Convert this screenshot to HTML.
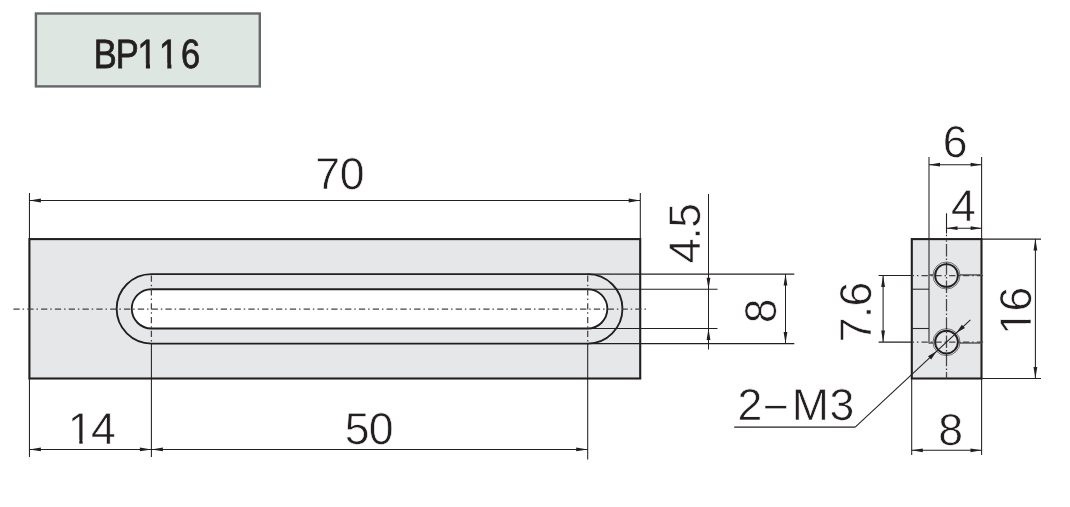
<!DOCTYPE html>
<html lang="en">
<head>
<meta charset="utf-8">
<title>BP116</title>
<style>
html,body{margin:0;padding:0;background:#fff;}
body{width:1070px;height:507px;overflow:hidden;}
svg{display:block;will-change:transform;}
text{font-family:"Liberation Sans",sans-serif;fill:#231f20;text-rendering:geometricPrecision;}
text.d{stroke:#fff;stroke-width:0.6px;}
</style>
</head>
<body>
<svg width="1070" height="507" viewBox="0 0 1070 507">
<rect width="1070" height="507" fill="#fff"/>
<rect x="35.9" y="13.5" width="223.9" height="72.9" fill="#dde6e0" stroke="#66676b" stroke-width="2.4"/>
<text class="b" transform="translate(0 68) scale(0.84 1)" x="111.67 137.86 163.81 189.29 215.36" y="0" font-size="41.0" stroke="#231f20" stroke-width="0.8">BP116</text>
<rect x="138.8" y="63.2" width="7.10" height="6.6" fill="#dde6e0"/>
<rect x="150.0" y="63.2" width="7.00" height="6.6" fill="#dde6e0"/>
<rect x="160.1" y="63.2" width="7.20" height="6.6" fill="#dde6e0"/>
<rect x="171.4" y="63.2" width="6.80" height="6.6" fill="#dde6e0"/>
<rect x="29.4" y="239.1" width="610.80" height="139.40" fill="#e6e7e8" stroke="#231f20" stroke-width="2.1"/>
<path d="M151.4 274.10 H587.7 A34.75 34.75 0 0 1 587.7 343.60 H151.4 A34.75 34.75 0 0 1 151.4 274.10 Z" fill="#e6e7e8" stroke="#231f20" stroke-width="1.85"/>
<path d="M151.4 289.20 H587.7 A19.65 19.65 0 0 1 587.7 328.50 H151.4 A19.65 19.65 0 0 1 151.4 289.20 Z" fill="#fff" stroke="#231f20" stroke-width="1.85"/>
<line x1="13.4" y1="309.05" x2="646" y2="309.05" stroke="#454345" stroke-width="1.25" stroke-dasharray="6.3 2.9 1.5 3.12"/>
<line x1="151.4" y1="275.5" x2="151.4" y2="343.6" stroke="#454345" stroke-width="1.25" stroke-dasharray="6.3 2.9 1.5 3.12"/>
<line x1="587.7" y1="275.5" x2="587.7" y2="343.6" stroke="#454345" stroke-width="1.25" stroke-dasharray="6.3 2.9 1.5 3.12"/>
<line x1="29.45" y1="193" x2="29.45" y2="239.1" stroke="#231f20" stroke-width="1.05"/>
<line x1="640.3" y1="193" x2="640.3" y2="239.1" stroke="#231f20" stroke-width="1.05"/>
<line x1="29.45" y1="378.5" x2="29.45" y2="457" stroke="#231f20" stroke-width="1.05"/>
<line x1="151.4" y1="343.6" x2="151.4" y2="457" stroke="#231f20" stroke-width="1.05"/>
<line x1="587.7" y1="343.6" x2="587.7" y2="459.5" stroke="#231f20" stroke-width="1.05"/>
<line x1="29.4" y1="200.5" x2="640.2" y2="200.5" stroke="#231f20" stroke-width="1.05"/>
<polygon points="29.40,200.50 40.90,198.60 40.90,202.40" fill="#231f20"/>
<polygon points="640.20,200.50 628.70,202.40 628.70,198.60" fill="#231f20"/>
<g transform="translate(0 189)"><text class="d" x="315.20 339.85" y="0" font-size="44.6">70</text></g>
<line x1="29.4" y1="449.4" x2="587.7" y2="449.4" stroke="#231f20" stroke-width="1.05"/>
<polygon points="29.40,449.40 40.90,447.50 40.90,451.30" fill="#231f20"/>
<polygon points="151.40,449.40 139.90,451.30 139.90,447.50" fill="#231f20"/>
<polygon points="151.40,449.40 162.90,447.50 162.90,451.30" fill="#231f20"/>
<polygon points="587.70,449.40 576.20,451.30 576.20,447.50" fill="#231f20"/>
<g transform="translate(0 444)"><text class="d" x="67.78 90.99" y="0" font-size="44.6">14</text><rect x="70.17" y="-4.33" width="9.12" height="5.53" fill="#fff"/><rect x="82.63" y="-4.33" width="8.77" height="5.53" fill="#fff"/></g>
<g transform="translate(0 444)"><text class="d" x="344.74 368.85" y="0" font-size="44.6">50</text></g>
<line x1="587.7" y1="274.1" x2="794.3" y2="274.1" stroke="#231f20" stroke-width="1.05"/>
<line x1="587.7" y1="343.6" x2="794.3" y2="343.6" stroke="#231f20" stroke-width="1.05"/>
<line x1="587.7" y1="289.2" x2="717.5" y2="289.2" stroke="#231f20" stroke-width="1.05"/>
<line x1="587.7" y1="328.5" x2="717.5" y2="328.5" stroke="#231f20" stroke-width="1.05"/>
<line x1="708.5" y1="194" x2="708.5" y2="349.5" stroke="#231f20" stroke-width="1.05"/>
<polygon points="708.50,289.20 706.60,277.70 710.40,277.70" fill="#231f20"/>
<polygon points="708.50,328.50 710.40,340.00 706.60,340.00" fill="#231f20"/>
<g transform="translate(700 291.1) rotate(-90)"><text class="d" x="27.74 51.30 63.24" y="0" font-size="44.6">4.5</text></g>
<line x1="785.5" y1="274.1" x2="785.5" y2="343.6" stroke="#231f20" stroke-width="1.05"/>
<polygon points="785.50,274.10 787.40,285.60 783.60,285.60" fill="#231f20"/>
<polygon points="785.50,343.60 783.60,332.10 787.40,332.10" fill="#231f20"/>
<g transform="translate(776 350.75) rotate(-90)"><text class="d" x="27.60" y="0" font-size="44.6">8</text></g>
<rect x="911.8" y="239.1" width="69.70" height="139.40" fill="#e6e7e8" stroke="#231f20" stroke-width="2.1"/>
<line x1="929" y1="239.1" x2="929" y2="343.6" stroke="#2e2b2c" stroke-width="1.1"/>
<line x1="911.8" y1="289.2" x2="929" y2="289.2" stroke="#2e2b2c" stroke-width="1.1"/>
<line x1="911.8" y1="328.5" x2="929" y2="328.5" stroke="#2e2b2c" stroke-width="1.1"/>
<line x1="929" y1="274.9" x2="933.3" y2="274.9" stroke="#58585b" stroke-width="1.5"/>
<line x1="959.7" y1="274.9" x2="981.5" y2="274.9" stroke="#58585b" stroke-width="1.5"/>
<line x1="929" y1="343" x2="933.3" y2="343" stroke="#58585b" stroke-width="1.5"/>
<line x1="959.7" y1="343" x2="981.5" y2="343" stroke="#58585b" stroke-width="1.5"/>
<line x1="911.8" y1="275.5" x2="986" y2="275.5" stroke="#454345" stroke-width="1.25" stroke-dasharray="6.3 2.9 1.5 3.12" stroke-dashoffset="4.1"/>
<line x1="911.8" y1="342.1" x2="986" y2="342.1" stroke="#454345" stroke-width="1.25" stroke-dasharray="6.3 2.9 1.5 3.12" stroke-dashoffset="4.1"/>
<line x1="946.5" y1="239.1" x2="946.5" y2="378.5" stroke="#454345" stroke-width="1.25" stroke-dasharray="12.4 2.2 1.5 2.2" stroke-dashoffset="13.4"/>
<circle cx="946.5" cy="275.5" r="13.5" fill="none" stroke="#231f20" stroke-width="0.6"/>
<circle cx="946.5" cy="275.5" r="11.4" fill="none" stroke="#231f20" stroke-width="1.9"/>
<circle cx="946.5" cy="342.1" r="13.5" fill="none" stroke="#231f20" stroke-width="0.6"/>
<circle cx="946.5" cy="342.1" r="11.4" fill="none" stroke="#231f20" stroke-width="1.9"/>
<line x1="929" y1="157" x2="929" y2="239.1" stroke="#231f20" stroke-width="1.05"/>
<line x1="981.6" y1="157" x2="981.6" y2="239.1" stroke="#231f20" stroke-width="1.05"/>
<line x1="929" y1="164.7" x2="981.5" y2="164.7" stroke="#231f20" stroke-width="1.05"/>
<polygon points="929.00,164.70 940.00,162.80 940.00,166.60" fill="#231f20"/>
<polygon points="981.60,164.70 970.60,166.60 970.60,162.80" fill="#231f20"/>
<g transform="translate(0 157)"><text class="d" x="942.80" y="0" font-size="44.6">6</text></g>
<line x1="946.5" y1="213.3" x2="946.5" y2="233.5" stroke="#231f20" stroke-width="1.1"/>
<line x1="946.5" y1="234.7" x2="946.5" y2="236.2" stroke="#231f20" stroke-width="1.1"/>
<line x1="946.5" y1="228.2" x2="981.5" y2="228.2" stroke="#231f20" stroke-width="1.05"/>
<polygon points="946.50,228.20 957.50,226.30 957.50,230.10" fill="#231f20"/>
<polygon points="981.60,228.20 970.60,230.10 970.60,226.30" fill="#231f20"/>
<g transform="translate(0 221)"><text class="d" x="950.89" y="0" font-size="44.6">4</text></g>
<line x1="981.5" y1="239.1" x2="1041" y2="239.1" stroke="#231f20" stroke-width="1.05"/>
<line x1="981.5" y1="378.5" x2="1041" y2="378.5" stroke="#231f20" stroke-width="1.05"/>
<line x1="1035.4" y1="239.1" x2="1035.4" y2="378.5" stroke="#231f20" stroke-width="1.05"/>
<polygon points="1035.40,239.10 1037.30,250.60 1033.50,250.60" fill="#231f20"/>
<polygon points="1035.40,378.50 1033.50,367.00 1037.30,367.00" fill="#231f20"/>
<g transform="translate(1031 364.95) rotate(-90)"><text class="d" x="30.28 53.40" y="0" font-size="44.6">16</text><rect x="32.67" y="-4.33" width="9.12" height="5.53" fill="#fff"/><rect x="45.13" y="-4.33" width="8.77" height="5.53" fill="#fff"/></g>
<line x1="878.6" y1="275.5" x2="911.8" y2="275.5" stroke="#231f20" stroke-width="1.05"/>
<line x1="878.6" y1="342.1" x2="911.8" y2="342.1" stroke="#231f20" stroke-width="1.05"/>
<line x1="883.1" y1="275.5" x2="883.1" y2="342.1" stroke="#231f20" stroke-width="1.05"/>
<polygon points="883.10,275.50 885.00,287.00 881.20,287.00" fill="#231f20"/>
<polygon points="883.10,342.10 881.20,330.60 885.00,330.60" fill="#231f20"/>
<g transform="translate(871 369.9) rotate(-90)"><text class="d" x="27.58 51.70 63.45" y="0" font-size="44.6">7.6</text></g>
<line x1="911.7" y1="378.5" x2="911.7" y2="455" stroke="#231f20" stroke-width="1.05"/>
<line x1="981.6" y1="378.5" x2="981.6" y2="455" stroke="#231f20" stroke-width="1.05"/>
<line x1="911.8" y1="450.3" x2="981.5" y2="450.3" stroke="#231f20" stroke-width="1.05"/>
<polygon points="911.80,450.30 922.80,448.40 922.80,452.20" fill="#231f20"/>
<polygon points="981.50,450.30 970.50,452.20 970.50,448.40" fill="#231f20"/>
<g transform="translate(0 445)"><text class="d" x="938.15" y="0" font-size="44.6">8</text></g>
<line x1="734.2" y1="427.1" x2="855.2" y2="427.1" stroke="#231f20" stroke-width="1.05"/>
<line x1="855.2" y1="427.1" x2="970.4" y2="319.9" stroke="#231f20" stroke-width="1.05"/>
<polygon points="956.46,332.84 961.84,324.68 964.98,328.05" fill="#231f20"/>
<polygon points="936.54,351.36 931.16,359.52 928.02,356.15" fill="#231f20"/>
<g transform="translate(0 420)"><text class="d" x="737.45 762.67 791.67 829.38" y="0" dy="0 2.4 -2.4 0" font-size="44.6">2−M3</text></g>
</svg>
</body>
</html>
